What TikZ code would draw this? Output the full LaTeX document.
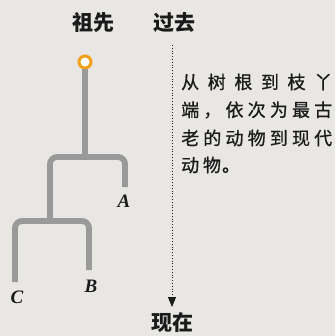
\documentclass[tikz,border=0pt]{standalone}
\usepackage{fontspec}
\setmainfont{Liberation Serif}
\newfontfamily\cjk{Noto Sans CJK SC}
\newfontfamily\cjkheavy{Noto Sans CJK SC Black}
\usetikzlibrary{arrows.meta}
\definecolor{bg}{HTML}{E8E7E4}
\definecolor{branchgray}{HTML}{999999}
\definecolor{rootorange}{HTML}{F2A019}
\definecolor{ink}{HTML}{1A1A1A}
\begin{document}
\begin{tikzpicture}[x=1pt,y=-1pt,
  branch/.style={draw=branchgray,line width=5.8pt,rounded corners=7pt},
  title/.style={font=\cjkheavy\fontsize{21}{21}\selectfont,text=ink,inner sep=0pt},
  body/.style={font=\cjk\addfontfeature{FakeBold=0.8}\fontsize{18}{18}\selectfont,text=ink,inner sep=0pt,anchor=west},
  leaf/.style={font=\bfseries\itshape\fontsize{19}{19}\selectfont,text=ink,inner sep=0pt},
  timeline/.style={draw=ink,dotted,line width=0.8pt,-{Triangle[width=8pt,length=10pt]}}]
\fill[bg] (0,0) rectangle (335,336);
\useasboundingbox (0,0) rectangle (335,336);
% titles
\node[title] (anc) at (93,23) {祖先};
\node[title] (past) at (174,23) {过去};
\node[title] (now) at (172,323) {现在};
% explanation
\node[body] (l1) at (181,82) {\makebox[151pt][s]{从\hfill 树\hfill 根\hfill 到\hfill 枝\hfill 丫}};
\node[body] (l2) at (181,110) {\makebox[151pt][s]{端\hfill ，\hfill 依\hfill 次\hfill 为\hfill 最\hfill 古}};
\node[body] (l3) at (181,138) {\makebox[151pt][s]{老\hfill 的\hfill 动\hfill 物\hfill 到\hfill 现\hfill 代}};
\node[body] (l4) at (181,165) {动\hspace{3.8pt}物\hspace{1pt}。};
% time arrow
\coordinate (ttop) at (172,45);
\coordinate (ttip) at (172,307);
\draw[timeline] (ttop) -- (ttip);
% tree
\node[circle,draw=rootorange,fill=white,line width=3pt,minimum size=12pt,inner sep=0pt] (root) at (85,62) {};
\coordinate (j1) at (85,157);
\coordinate (j2) at (50,221);
\coordinate (aend) at (125,187);
\coordinate (bend) at (89,270);
\coordinate (cend) at (15,282);
\draw[branch] (root.south) -- (j1);
\draw[branch] (aend) |- (j1) -| (j2);
\draw[branch] (cend) |- (j2) -| (bend);
\node[leaf] (A) at (124,201) {A};
\node[leaf] (B) at (91,286) {B};
\node[leaf] (C) at (17,297) {C};
\end{tikzpicture}
\end{document}
